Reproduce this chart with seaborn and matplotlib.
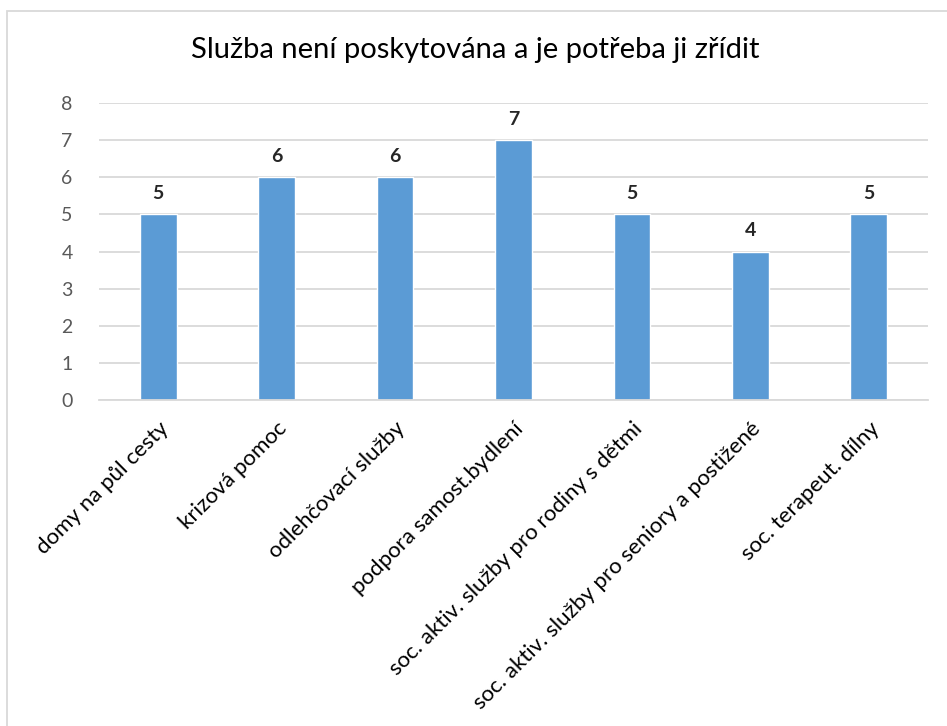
import matplotlib
matplotlib.use("Agg")
import matplotlib.pyplot as plt
import seaborn as sns
import pandas as pd
from matplotlib.patches import Rectangle

# Chart data
categories = [
    "domy na půl cesty",
    "krizová pomoc",
    "odlehčovací služby",
    "podpora samost.bydlení",
    "soc. aktiv. služby pro rodiny s dětmi",
    "soc. aktiv. služby pro seniory a postižené",
    "soc. terapeut. dílny",
]
counts = [5, 6, 6, 7, 5, 4, 5]
y_ticks = [0, 1, 2, 3, 4, 5, 6, 7, 8]
title = "Služba není poskytována a je potřeba ji zřídit"

df = pd.DataFrame({"Služba": categories, "Počet": counts})

sns.set_style("white")
plt.rcParams["font.family"] = ["Lato", "DejaVu Sans"]

fig = plt.figure(figsize=(9.47, 7.26), dpi=100)
ax = fig.add_axes([0.1045, 0.449, 0.8755, 0.409])

sns.barplot(data=df, x="Služba", y="Počet", color="#5b9bd5", width=0.31,
            saturation=1, ax=ax)

ax.set_ylim(0, 8)
ax.set_yticks(y_ticks)
ax.yaxis.grid(True, color="#d9d9d9", linewidth=1.3)
ax.set_axisbelow(True)
for side in ["top", "right", "left"]:
    ax.spines[side].set_visible(False)
ax.spines["bottom"].set_color("#d9d9d9")
ax.spines["bottom"].set_linewidth(1.3)
ax.tick_params(axis="both", length=0)
ax.tick_params(axis="y", labelsize=14, labelcolor="#595959", pad=19)
ax.set_xlabel("")
ax.set_ylabel("")

ax.set_xticks(range(len(categories)))
ax.set_xticklabels(categories, rotation=45, ha="right", rotation_mode="anchor",
                   fontsize=16, color="#000000")
ax.tick_params(axis="x", pad=13)

for container in ax.containers:
    ax.bar_label(container, fontsize=14, fontweight="bold", padding=9)

fig.text(0.502, 0.931, title, ha="center", va="center", fontsize=21,
         color="#000000")

# chart border (only left/top visible in the crop)
fig.patches.append(Rectangle((7 / 947, -0.1), 1.2, (726 - 11) / 726 + 0.1,
                             transform=fig.transFigure, fill=False,
                             edgecolor="#d9d9d9", linewidth=1.3))

fig.savefig("out.png", dpi=100)
